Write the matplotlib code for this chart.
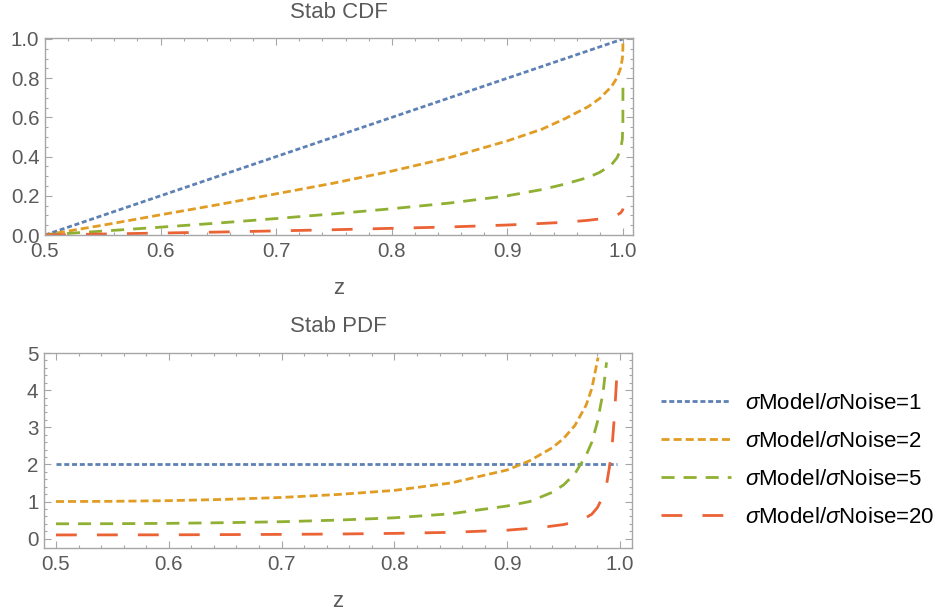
import matplotlib
matplotlib.use("Agg")
import matplotlib.pyplot as plt
import numpy as np
from matplotlib.lines import Line2D

plt.rcParams['font.family'] = ['Liberation Sans', 'DejaVu Sans']
plt.rcParams['mathtext.fontset'] = 'custom'
plt.rcParams['mathtext.rm'] = 'Liberation Sans'
plt.rcParams['mathtext.it'] = 'Liberation Sans:italic'
plt.rcParams['lines.scale_dashes'] = False

# ---------------- data ----------------
ratios = [1, 2, 5, 20]
labels = [r'$\sigma$Model/$\sigma$Noise=%d' % r for r in ratios]

# CDF panel
cdf_z_r1 = [0.5, 1.0]
cdf_v_r1 = [0.0, 1.0]
cdf_z = [0.5, 0.55, 0.6, 0.65, 0.7, 0.75, 0.8, 0.85, 0.9, 0.93, 0.95, 0.97,
         0.98, 0.99, 0.995, 0.998, 0.9995, 0.99995, 1.0]
cdf_v_r2 = [0.0, 0.05, 0.103, 0.155, 0.21, 0.265, 0.326, 0.395, 0.48, 0.54, 0.594,
            0.655, 0.697, 0.757, 0.803, 0.852, 0.90, 0.95, 1.0]
cdf_v_r5 = [0.0, 0.02, 0.04, 0.061, 0.084, 0.108, 0.134, 0.163, 0.2, 0.232, 0.26,
            0.294, 0.32, 0.358, 0.395, 0.436, 0.49, 0.58, 0.76]
cdf_v_r20 = [0.0, 0.005, 0.01, 0.015, 0.021, 0.027, 0.034, 0.041, 0.051, 0.059, 0.065,
             0.075, 0.082, 0.093, 0.102, 0.113, 0.125, 0.132, 0.135]

# PDF panel
pdf_z_r1 = [0.5, 0.997]
pdf_v_r1 = [2.0, 2.0]
pdf_z_r2 = [0.5, 0.55, 0.6, 0.65, 0.7, 0.75, 0.8, 0.85, 0.9, 0.92, 0.94, 0.95,
            0.96, 0.97, 0.975, 0.98, 0.9805]
pdf_v_r2 = [1.0, 1.006, 1.024, 1.058, 1.11, 1.19, 1.30, 1.50, 1.85, 2.1, 2.45, 2.7,
            3.05, 3.6, 4.05, 4.8, 4.88]
pdf_z_r5 = [0.5, 0.55, 0.6, 0.65, 0.7, 0.75, 0.8, 0.85, 0.9, 0.92, 0.94, 0.95,
            0.96, 0.97, 0.975, 0.98, 0.985, 0.988]
pdf_v_r5 = [0.4, 0.403, 0.412, 0.43, 0.456, 0.5, 0.562, 0.67, 0.88, 1.0, 1.25, 1.45,
            1.75, 2.25, 2.6, 3.15, 3.95, 4.75]
pdf_z_r20 = [0.5, 0.6, 0.7, 0.75, 0.8, 0.85, 0.9, 0.93, 0.95, 0.96, 0.97, 0.975,
             0.98, 0.985, 0.988, 0.991, 0.993, 0.995, 0.997]
pdf_v_r20 = [0.1, 0.103, 0.115, 0.125, 0.142, 0.17, 0.228, 0.3, 0.38, 0.45, 0.57,
             0.66, 0.84, 1.15, 1.45, 2.0, 2.5, 3.3, 4.3]

x_ticks = [0.5, 0.6, 0.7, 0.8, 0.9, 1.0]
x_ticklabels = ['0.5', '0.6', '0.7', '0.8', '0.9', '1.0']
cdf_yticks = [0.0, 0.2, 0.4, 0.6, 0.8, 1.0]
cdf_yticklabels = ['0.0', '0.2', '0.4', '0.6', '0.8', '1.0']
pdf_yticks = [0, 1, 2, 3, 4, 5]
pdf_yticklabels = ['0', '1', '2', '3', '4', '5']

# ---------------- styles ----------------
colors = ['#5E81B5', '#E19C24', '#8FB032', '#EB6235']
dash_styles = [(3.6, 2.0), (5.8, 2.9), (9.4, 6.5), (15.0, 14.5)]
LW = 2.0
FRAME = '#a6a6a6'
TXT = '#5a5a5a'
FS = 14.8
FS_TITLE = 16.0
FS_LEG = 16.0

fig = plt.figure(figsize=(9.4, 6.16), dpi=100)
W, H = 940.0, 616.0
ax1 = fig.add_axes([45 / W, 1 - 235 / H, (633 - 45) / W, (235 - 38) / H])
ax2 = fig.add_axes([44 / W, 1 - 548.3 / H, (632 - 44) / W, (548.3 - 352.7) / H])

cdf_sets = [(cdf_z_r1, cdf_v_r1), (cdf_z, cdf_v_r2), (cdf_z, cdf_v_r5), (cdf_z, cdf_v_r20)]
pdf_sets = [(pdf_z_r1, pdf_v_r1), (pdf_z_r2, pdf_v_r2), (pdf_z_r5, pdf_v_r5), (pdf_z_r20, pdf_v_r20)]

for (zz, vv), c, d in zip(cdf_sets, colors, dash_styles):
    ax1.plot(zz, vv, color=c, lw=LW, dashes=d, clip_on=True)
for (zz, vv), c, d in zip(pdf_sets, colors, dash_styles):
    ax2.plot(zz, vv, color=c, lw=LW, dashes=d, clip_on=True)

ax1.set_xlim(0.5, 1.0087)
ax1.set_ylim(0.0, 1.005)
ax2.set_xlim(0.4894, 1.0106)
ax2.set_ylim(-0.26, 5.01)

def style(ax, yt, ytl, yminor, title):
    ax.set_xticks(x_ticks)
    ax.set_xticklabels(x_ticklabels)
    ax.set_yticks(yt)
    ax.set_yticklabels(ytl)
    ax.set_xticks(np.arange(0.5, 1.0001, 0.02), minor=True)
    ax.set_yticks(yminor, minor=True)
    ax.tick_params(which='both', direction='in', top=True, right=True,
                   color=FRAME, labelcolor=TXT, labelsize=FS, width=0.8)
    ax.tick_params(which='major', length=5)
    ax.tick_params(which='minor', length=2.5)
    ax.tick_params(axis='x', pad=5)
    ax.tick_params(axis='y', pad=4)
    for s in ax.spines.values():
        s.set_color(FRAME)
        s.set_linewidth(1.0)
    ax.text(0.5, 1.0 + 26 / (ax.get_position().height * H), title,
            transform=ax.transAxes, ha='center', va='center', fontsize=FS_TITLE, color=TXT)
    ax.text(0.5, -53 / (ax.get_position().height * H), 'z',
            transform=ax.transAxes, ha='center', va='center', fontsize=FS_TITLE, color=TXT)

style(ax1, cdf_yticks, cdf_yticklabels, np.arange(0, 1.0001, 0.05), 'Stab CDF')
style(ax2, pdf_yticks, pdf_yticklabels, np.arange(0, 5.0001, 0.2), 'Stab PDF')

handles = [Line2D([], [], color=c, lw=LW, dashes=d) for c, d in zip(colors, dash_styles)]
fig.legend(handles, labels, loc='center left', bbox_to_anchor=(661 / W, 1 - 460.5 / H),
           bbox_transform=fig.transFigure, frameon=False, fontsize=FS_LEG,
           handlelength=3.15, handletextpad=0.63, labelspacing=0.76,
           borderpad=0, borderaxespad=0)

fig.savefig('out.png', dpi=100)
